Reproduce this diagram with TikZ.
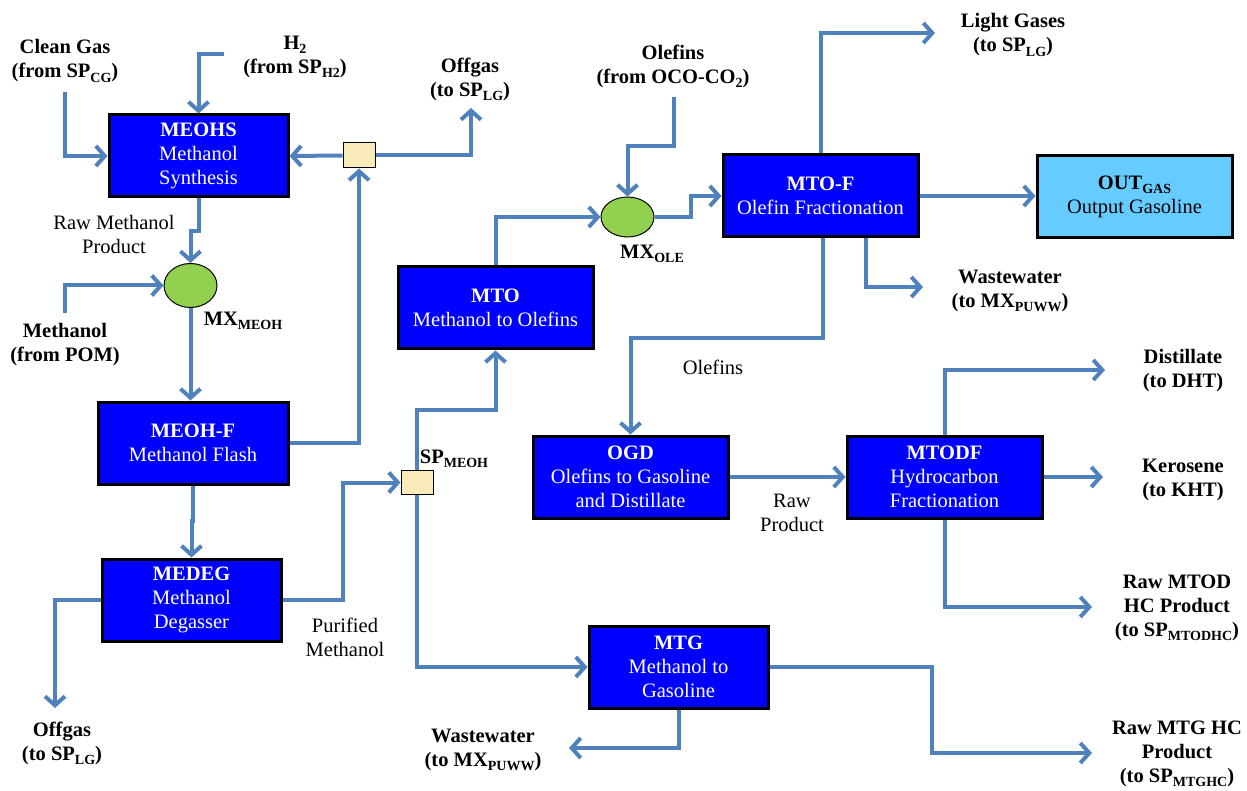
\documentclass[tikz,border=0pt]{standalone}
\usepackage{fontspec}
\setmainfont{Liberation Serif}
\usepackage{tikz}
\usetikzlibrary{arrows.meta,shapes.geometric}

\definecolor{flow}{RGB}{79,129,189}
\definecolor{unitblue}{RGB}{0,0,255}
\definecolor{mixgreen}{RGB}{146,208,80}
\definecolor{splitcream}{RGB}{250,236,186}
\definecolor{outcyan}{RGB}{102,204,255}
\newcommand{\subtxt}[1]{\raisebox{-0.45ex}{\fontsize{14}{14}\selectfont #1}}

\begin{document}
\begin{tikzpicture}[
  x=1pt, y=-1pt,
  unit/.style={rectangle, draw=black, line width=3pt, fill=unitblue, text=white,
               minimum width=179pt, minimum height=82pt, align=center,
               font=\fontsize{20.5}{24}\selectfont, inner sep=2pt},
  mix/.style={ellipse, draw=black, line width=1pt, fill=mixgreen,
              minimum width=53pt, minimum height=44pt},
  split/.style={rectangle, draw=black, line width=1pt, fill=splitcream,
                minimum width=32pt, minimum height=25pt, inner sep=0pt},
  lbl/.style={align=center, font=\fontsize{20.5}{24}\selectfont\bfseries, inner sep=0pt},
  note/.style={align=center, font=\fontsize{20.5}{24}\selectfont, inner sep=0pt},
  arr/.style={-{Straight Barb[length=9pt,width=20pt]}, line width=4pt, draw=flow},
]
  \useasboundingbox (0,0) rectangle (1247,791);

  \node[unit]                       (meohs)  at (198.5,156) {\textbf{MEOHS}\\Methanol\\Synthesis};
  \node[split]                      (sepoff) at (359,155.5) {};
  \node[mix]                        (mxmeoh) at (190.5,285.5) {};
  \node[unit, minimum width=190pt]  (meohf)  at (193,443) {\textbf{MEOH-F}\\Methanol Flash};
  \node[unit]                       (medeg)  at (191.5,600) {\textbf{MEDEG}\\Methanol\\Degasser};
  \node[split, minimum height=24pt] (spmeoh) at (417,482.5) {};
  \node[unit, minimum width=195pt]  (mto)    at (495.5,308) {\textbf{MTO}\\Methanol to Olefins};
  \node[mix, minimum height=40pt]   (mxole)  at (627.5,217) {};
  \node[unit, minimum width=195pt]  (mtof)   at (820.5,196) {\textbf{MTO-F}\\Olefin Fractionation};
  \node[unit, minimum width=195pt, fill=outcyan, text=black]
                                    (outgas) at (1134.5,197) {\textbf{OUT\subtxt{GAS}}\\Output Gasoline};
  \node[unit, minimum width=195pt]  (ogd)    at (630.5,477) {\textbf{OGD}\\Olefins to Gasoline\\and Distillate};
  \node[unit, minimum width=195pt]  (mtodf)  at (944.5,477) {\textbf{MTODF}\\Hydrocarbon\\Fractionation};
  \node[unit]                       (mtg)    at (678.5,667) {\textbf{MTG}\\Methanol to\\Gasoline};

  \node[lbl] (lclean)  at (65,61)     {Clean Gas\\(from SP\subtxt{CG})};
  \node[lbl] (lhtwo)   at (295,57)    {H\subtxt{2}\\(from SP\subtxt{H2})};
  \node[lbl] (loffa)   at (470,79)    {Offgas\\(to SP\subtxt{LG})};
  \node[lbl] (lolein)  at (673,66)    {Olefins\\(from OCO-CO\subtxt{2})};
  \node[lbl] (llight)  at (1013,35)   {Light Gases\\(to SP\subtxt{LG})};
  \node[lbl] (lwwa)    at (1010,291)  {Wastewater\\(to MX\subtxt{PUWW})};
  \node[lbl] (lmxole)  at (652,254)   {MX\subtxt{OLE}};
  \node[lbl] (lmxmeoh) at (243,321)   {MX\subtxt{MEOH}};
  \node[lbl] (lpom)    at (65,345)    {Methanol\\(from POM)};
  \node[lbl] (lspmeoh) at (454,459)   {SP\subtxt{MEOH}};
  \node[lbl] (loffb)   at (62,743)    {Offgas\\(to SP\subtxt{LG})};
  \node[lbl] (ldist)   at (1183,371)  {Distillate\\(to DHT)};
  \node[lbl] (lkero)   at (1183,480)  {Kerosene\\(to KHT)};
  \node[lbl] (lmtod)   at (1177,608)  {Raw MTOD\\HC Product\\(to SP\subtxt{MTODHC})};
  \node[lbl] (lmtghc)  at (1177,754)  {Raw MTG HC\\Product\\(to SP\subtxt{MTGHC})};
  \node[lbl] (lwwb)    at (483,750)   {Wastewater\\(to MX\subtxt{PUWW})};

  \node[note] (lrawme)  at (114,234) {Raw Methanol\\Product};
  \node[note] (lpurif)  at (345,637) {Purified\\Methanol};
  \node[note] (lolef)   at (713,367) {Olefins};
  \node[note] (lrawpr)  at (792,513) {Raw\\Product};

  \coordinate (cgin)    at (65,92);
  \coordinate (h2in)    at (224,54);
  \coordinate (offout)  at (471,108);
  \coordinate (pomin)   at (65,313);
  \coordinate (offout2) at (55,708);
  \coordinate (olin)    at (674,97);
  \coordinate (lgout)   at (935,33);
  \coordinate (wwout1)  at (923,287);
  \coordinate (distout) at (1105,370);
  \coordinate (kerout)  at (1103,477);
  \coordinate (mtodout) at (1092,607);
  \coordinate (mtgout)  at (1092,753);
  \coordinate (wwout2)  at (569,748);

  \draw[arr] (cgin) |- (meohs.west);
  \draw[arr] (h2in) -| (meohs.north);
  \draw[arr] (sepoff.west) -- (meohs.east);
  \draw[arr] (sepoff.east) -| (offout);
  \draw[arr] (meohf.east) -| (sepoff.south);
  \draw[arr] (meohs.south) -- ++(0,33) -| (mxmeoh.north);
  \draw[arr] (pomin) |- (mxmeoh.west);
  \draw[arr] (mxmeoh.south) -- (mxmeoh.south |- meohf.north);
  \draw[arr] (meohf.south) -- ++(0,35) -| (medeg.north);
  \draw[arr] (medeg.west) -| (offout2);
  \draw[arr] (medeg.east) -- ++(60,0) |- (spmeoh.west);
  \draw[arr] (spmeoh.north) -- ++(0,-60) -| (mto.south);
  \draw[arr] (spmeoh.south) |- (mtg.west);
  \draw[arr] (mto.north) |- (mxole.west);
  \draw[arr] (olin) -- ++(0,49) -| (mxole.north);
  \draw[arr] (mxole.east) -- ++(36,0) |- (mtof.west);
  \draw[arr] (mtof.north) |- (lgout);
  \draw[arr] (mtof.east) -- (mtof.east -| outgas.west);
  \draw[arr] ([xshift=45pt]mtof.south) |- (wwout1);
  \draw[arr] ([xshift=2pt]mtof.south) -- ++(0,100) -| (ogd.north);
  \draw[arr] (ogd.east) -- (mtodf.west);
  \draw[arr] (mtodf.north) |- (distout);
  \draw[arr] (mtodf.east) -- (kerout);
  \draw[arr] (mtodf.south) |- (mtodout);
  \draw[arr] (mtg.east) -- ++(162,0) |- (mtgout);
  \draw[arr] (mtg.south) |- (wwout2);
\end{tikzpicture}
\end{document}
